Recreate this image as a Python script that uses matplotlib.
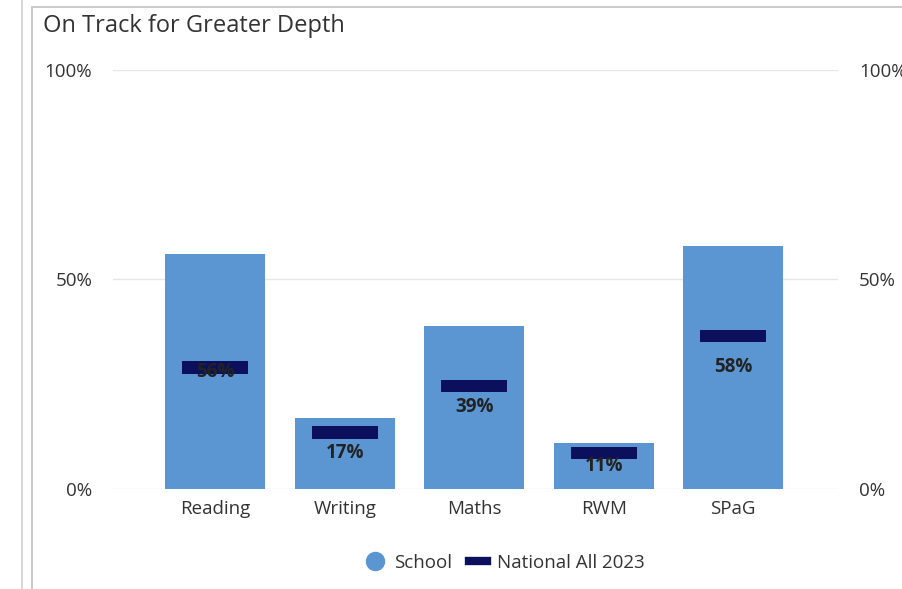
import matplotlib.pyplot as plt
from matplotlib.lines import Line2D
from matplotlib.patches import Rectangle

plt.rcParams['font.family'] = ['Open Sans', 'DejaVu Sans']

# Data
subjects = ["Reading", "Writing", "Maths", "RWM", "SPaG"]
school = [56, 17, 39, 11, 58]
national = [29, 13.5, 24.5, 8.5, 36.5]
yticks = [0, 50, 100]

bar_color = "#5b96d3"
nat_color = "#0b0f5c"
text_color = "#333333"

fig = plt.figure(figsize=(9.02, 5.89), dpi=100)

# Outer frame lines like the dashboard tile
fig.add_artist(Rectangle((32 / 902, -0.01), 1.0, 1 - 7 / 589 + 0.01, transform=fig.transFigure,
                         fill=False, edgecolor="#c6c6c6", linewidth=1.3))
fig.add_artist(Line2D([21.5 / 902, 21.5 / 902], [0, 1], transform=fig.transFigure,
                      color="#d0d0d0", linewidth=1.2))

ax = fig.add_axes([113 / 902, 1 - 489 / 589, 725 / 902, 419 / 589])
x = list(range(len(subjects)))

ax.bar(x, school, width=0.77, color=bar_color, zorder=2)

# National markers as thin bars centred on the value
thick = 2.9
ax.bar(x, [thick] * len(x), bottom=[n - thick / 2 for n in national],
       width=0.51, color=nat_color, zorder=3)

for xi, v in zip(x, school):
    ax.text(xi, v / 2, f"{v}%", ha="center", va="center", fontsize=13.5,
            fontweight="bold", color="#222222", zorder=4)

ax.set_xlim(-0.79, 4.81)
ax.set_ylim(0, 100)
ax.set_yticks(yticks)
ax.set_yticklabels([f"{t}%" for t in yticks])
ax.set_xticks(x)
ax.set_xticklabels(subjects)
ax.grid(axis="y", color="#e6e6e6", linewidth=1, zorder=0)
ax.set_axisbelow(True)
for s in ax.spines.values():
    s.set_visible(False)
ax.tick_params(axis="y", length=0, pad=15, labelsize=13.5, labelcolor=text_color)
ax.tick_params(axis="x", length=0, pad=8, labelsize=13.5, labelcolor=text_color)

ax2 = ax.twinx()
ax2.set_ylim(0, 100)
ax2.set_yticks(yticks)
ax2.set_yticklabels([f"{t}%" for t in yticks])
for s in ax2.spines.values():
    s.set_visible(False)
ax2.tick_params(axis="y", length=0, pad=15, labelsize=13.5, labelcolor=text_color)

fig.text(43 / 902, 1 - 26 / 589, "On Track for Greater Depth", fontsize=17,
         color="#333333", va="center", ha="left")

handles = [
    Line2D([], [], marker="o", linestyle="none", markersize=13, color=bar_color),
    Line2D([], [], color=nat_color, linewidth=6),
]
fig.legend(handles, ["School", "National All 2023"], loc="center",
           bbox_to_anchor=(505 / 902, 1 - 563 / 589), ncol=2, frameon=False,
           fontsize=13.5, handlelength=1.0, handletextpad=0.5, columnspacing=0.9,
           labelcolor=text_color)

fig.savefig("out.png", dpi=100)
